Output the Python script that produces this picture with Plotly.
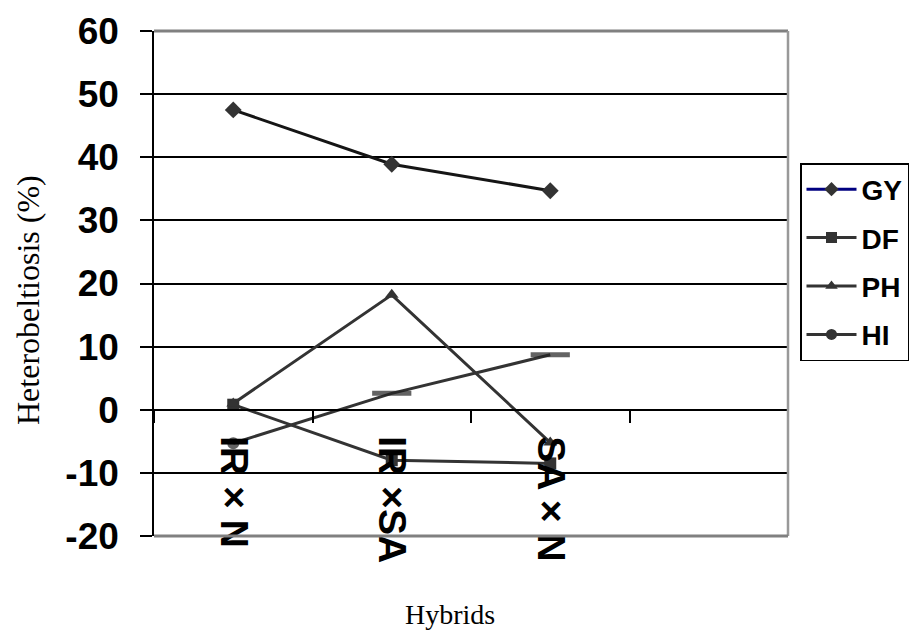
import plotly.graph_objects as go

categories = ["IR × N", "IR ×SA", "SA × N"]
axis_categories = categories + [" "]
gy = [47.5, 38.9, 34.7]
df = [0.8, -8.0, -8.5]
ph = [1.0, 18.2, -5.2]
hi = [-5.3, 2.6, 8.7]
y_ticks = [-20, -10, 0, 10, 20, 30, 40, 50, 60]
y_tick_labels = ["-20", "-10", "0", "10", "20", "30", "40", "50", "60"]
series_names = ["GY", "DF", "PH", "HI"]

OFF = 8  # page body margin
W, H = 918 - OFF, 632 - OFF
L, R, T, B = 154 - OFF, 788 - OFF, 31 - OFF, 536 - OFF

def px_x(p):
    return (p - OFF - L) / (R - L)

def px_y(p):
    return (B - (p - OFF)) / (B - T)

dark = "#333333"
fig = go.Figure()

fig.add_trace(go.Scatter(x=categories, y=gy, mode="lines+markers", showlegend=False,
                         line=dict(color="#151515", width=3),
                         marker=dict(symbol="diamond", size=13, color=dark)))
fig.add_trace(go.Scatter(x=categories, y=df, mode="lines+markers", showlegend=False,
                         line=dict(color=dark, width=3),
                         marker=dict(symbol="square", size=12, color=dark)))
fig.add_trace(go.Scatter(x=categories, y=ph, mode="lines+markers", showlegend=False,
                         line=dict(color=dark, width=3),
                         marker=dict(symbol="triangle-up", size=12, color=dark)))
fig.add_trace(go.Scatter(x=categories, y=hi, mode="lines+markers", showlegend=False,
                         line=dict(color=dark, width=3),
                         marker=dict(symbol=["circle", "line-ew", "line-ew"], size=[7, 28, 28],
                                     color="#222222", line=dict(color="#222222", width=5))))

# legend entries
legend_styles = [("diamond", "#000080"), ("square", dark), ("triangle-up", dark), ("circle", dark)]
for name, (sym, lc) in zip(series_names, legend_styles):
    fig.add_trace(go.Scatter(x=[None], y=[None], mode="lines+markers",
                             name=name, legendgroup=name,
                             line=dict(color=lc, width=3),
                             marker=dict(symbol=sym, size=11, color=dark)))

fig.update_layout(
    width=W, height=H,
    margin=dict(l=L, r=W - R, t=T, b=H - B, autoexpand=False),
    paper_bgcolor="white", plot_bgcolor="white",
    showlegend=True,
    legend=dict(x=px_x(800), y=px_y(163), xanchor="left", yanchor="top",
                bgcolor="white", bordercolor="black", borderwidth=1.5,
                font=dict(family="Liberation Sans", size=28, color="black", weight="bold"),
                tracegroupgap=9, traceorder="grouped", itemwidth=50),
    xaxis=dict(type="category", categoryorder="array", categoryarray=axis_categories,
               range=[-0.5, 3.5], anchor="free", position=20 / 80,
               showline=True, linecolor="black", linewidth=1.5,
               ticks="outside", tickson="boundaries", ticklen=12, tickwidth=1.5,
               tickcolor="black", tickangle=90, ticklabelstandoff=18,
               tickfont=dict(family="Liberation Sans", size=39, color="black", weight="bold"),
               showgrid=False, zeroline=False),
    yaxis=dict(range=[-20, 60], tickvals=y_ticks, ticktext=y_tick_labels,
               showline=True, linecolor="black", linewidth=1.5,
               ticks="outside", ticklen=12, tickwidth=1.5, tickcolor="black",
               ticklabelstandoff=14,
               tickfont=dict(family="Liberation Sans", size=37, color="black", weight="bold"),
               showgrid=True, gridcolor="black", gridwidth=1.5, zeroline=False),
    shapes=[
        dict(type="line", xref="paper", yref="paper", x0=0, x1=1, y0=1, y1=1,
             line=dict(color="#808080", width=3), layer="above"),
        dict(type="line", xref="paper", yref="paper", x0=1, x1=1, y0=0, y1=1,
             line=dict(color="#999999", width=2.5), layer="above"),
        dict(type="line", xref="paper", yref="paper", x0=0, x1=1, y0=0, y1=0,
             line=dict(color="#808080", width=3), layer="above"),
    ],
    annotations=[
        dict(text="Heterobeltiosis (%)", xref="paper", yref="paper",
             x=px_x(28), y=px_y(300), xanchor="center", yanchor="middle",
             textangle=-90, showarrow=False,
             font=dict(family="Liberation Serif", size=32, color="black")),
        dict(text="Hybrids", xref="paper", yref="paper",
             x=px_x(450), y=px_y(614), xanchor="center", yanchor="middle",
             showarrow=False,
             font=dict(family="Liberation Serif", size=28, color="black")),
    ],
)

fig.write_html("out.html")
